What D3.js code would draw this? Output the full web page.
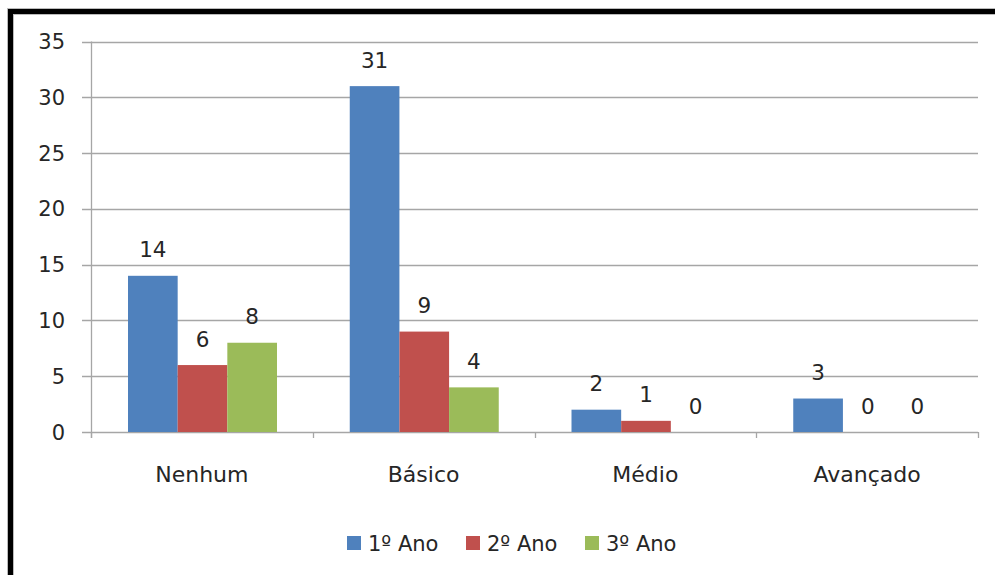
<!DOCTYPE html>
<html>
<head>
<meta charset="utf-8">
<script src="https://cdn.jsdelivr.net/npm/d3@7"></script>
<style>
  html, body { margin: 0; padding: 0; background: #fff; }
  svg { display: block; }
  text { font-family: "DejaVu Sans", sans-serif; fill: #262626; }
</style>
</head>
<body>
<svg id="chart" width="995" height="575"></svg>
<script>
// Nível de conhecimento por ano
const categories = ["Nenhum", "Básico", "Médio", "Avançado"];
const seriesNames = ["1º Ano", "2º Ano", "3º Ano"];
const ano1 = [14, 31, 2, 3];
const ano2 = [6, 9, 1, 0];
const ano3 = [8, 4, 0, 0];
const yTicks = [0, 5, 10, 15, 20, 25, 30, 35];
const colors = ["#4F81BD", "#C0504D", "#9BBB59"];

const series = [ano1, ano2, ano3];
const svg = d3.select("#chart");

// Outer frame
svg.append("path")
  .attr("d", "M10.5,600 V11.5 H1000")
  .attr("fill", "none").attr("stroke", "#bbb").attr("stroke-width", 7);
svg.append("path")
  .attr("d", "M10.5,600 V11.5 H1000")
  .attr("fill", "none").attr("stroke", "#000").attr("stroke-width", 5);

const plotLeft = 91, plotRight = 978, plotTop = 41.5, plotBottom = 432;

const y = d3.scaleLinear().domain([0, 35]).range([plotBottom, plotTop]);
const x0 = d3.scaleBand().domain(categories).range([plotLeft, plotRight]);
const x1 = d3.scaleBand().domain(d3.range(seriesNames.length))
  .range([37, 186]);

// Horizontal gridlines
svg.append("g").selectAll("line").data(yTicks).join("line")
  .attr("x1", 82).attr("x2", plotRight)
  .attr("y1", d => Math.round(y(d)) + 0.5).attr("y2", d => Math.round(y(d)) + 0.5)
  .attr("stroke", "#a6a6a6").attr("stroke-width", 1.3);

// Y axis labels
svg.append("g").selectAll("text").data(yTicks).join("text")
  .attr("x", 65).attr("y", d => y(d) + 7.5)
  .attr("text-anchor", "end").attr("font-size", 21)
  .text(d => d);

// Y axis line
svg.append("line")
  .attr("x1", plotLeft + 0.5).attr("x2", plotLeft + 0.5)
  .attr("y1", plotTop).attr("y2", plotBottom + 6)
  .attr("stroke", "#a6a6a6").attr("stroke-width", 1.3);

// Category tick marks
const catEdges = categories.map(c => x0(c)).concat([x0(categories[3]) + x0.bandwidth()]);
svg.append("g").selectAll("line").data(catEdges).join("line")
  .attr("x1", d => Math.round(d) + 0.5).attr("x2", d => Math.round(d) + 0.5)
  .attr("y1", plotBottom).attr("y2", plotBottom + 6)
  .attr("stroke", "#a6a6a6").attr("stroke-width", 1.3);

// Bars
const groups = svg.append("g").selectAll("g").data(categories).join("g")
  .attr("transform", c => `translate(${x0(c)},0)`);

groups.selectAll("rect")
  .data((c, i) => series.map((s, k) => ({ k, v: s[i] })))
  .join("rect")
  .attr("x", d => x1(d.k)).attr("width", x1.bandwidth())
  .attr("y", d => y(d.v)).attr("height", d => plotBottom - y(d.v))
  .attr("fill", d => colors[d.k]);

// Value labels
groups.selectAll("text")
  .data((c, i) => series.map((s, k) => ({ k, v: s[i] })))
  .join("text")
  .attr("x", d => x1(d.k) + x1.bandwidth() / 2)
  .attr("y", d => y(d.v) - 18.5)
  .attr("text-anchor", "middle").attr("font-size", 21.5)
  .text(d => d.v);

// Category labels
svg.append("g").selectAll("text").data(categories).join("text")
  .attr("x", c => x0(c) + x0.bandwidth() / 2)
  .attr("y", 482)
  .attr("text-anchor", "middle").attr("font-size", 22)
  .text(c => c);

// Legend
const legendX = [347, 466, 585];
const legend = svg.append("g").selectAll("g").data(seriesNames).join("g")
  .attr("transform", (d, i) => `translate(${legendX[i]},536)`);
legend.append("rect").attr("width", 14).attr("height", 14)
  .attr("fill", (d, i) => colors[i]);
legend.append("text").attr("x", 21).attr("y", 14.5)
  .attr("font-size", 21).text(d => d);
</script>
</body>
</html>
